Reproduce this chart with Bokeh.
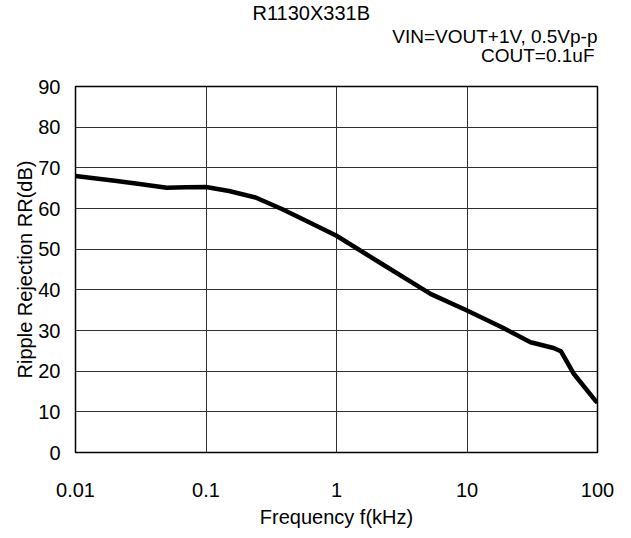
from bokeh.plotting import figure
from bokeh.models import FixedTicker, Title
from bokeh.embed import file_html
from bokeh.resources import INLINE

# ---- data ----
freq_khz = [0.01, 0.02, 0.03, 0.05, 0.07, 0.1, 0.15, 0.24, 0.385, 0.6, 1.0,
            2.17, 5.25, 10, 19, 30.7, 46, 52.4, 66, 96, 100]
rr_db = [68.0, 66.8, 66.1, 65.1, 65.2, 65.3, 64.3, 62.7, 59.8, 56.8, 53.3,
         46.6, 39.0, 34.9, 30.6, 27.1, 25.7, 24.9, 19.3, 12.8, 12.3]
x_ticks = [0.01, 0.1, 1, 10, 100]
x_tick_labels = ["0.01", "0.1", "1", "10", "100"]
y_ticks = [0, 10, 20, 30, 40, 50, 60, 70, 80, 90]

title_text = "R1130X331B"
cond_line1 = "VIN=VOUT+1V, 0.5Vp-p"
cond_line2 = "COUT=0.1uF"

FONT = "Liberation Sans"
SIZE = "20px"
HEAD_SIZE = "19px"

p = figure(width=623, height=530, x_axis_type="log",
           x_range=(0.01, 100), y_range=(0, 90), title=None,
           output_backend="svg", toolbar_location=None,
           min_border_left=75, min_border_right=26,
           min_border_top=86, min_border_bottom=70,
           background_fill_color="white", border_fill_color="white")

p.line(x=freq_khz, y=rr_db, line_color="black", line_width=4.5, line_join="round")

# header titles (stacked outward from the frame; standoffs tune each baseline)
p.add_layout(Title(text=cond_line2, align="right", offset=3, standoff=41,
                   text_font=FONT, text_font_size=HEAD_SIZE,
                   text_font_style="normal", text_color="black"), "above")
p.add_layout(Title(text=title_text, align="left", offset=177, standoff=-2,
                   text_font=FONT, text_font_size=SIZE,
                   text_font_style="normal", text_color="black"), "above")
p.add_layout(Title(text=cond_line1, align="right", offset=0, standoff=-92,
                   text_font=FONT, text_font_size=HEAD_SIZE,
                   text_font_style="normal", text_color="black"), "above")

p.xaxis.ticker = FixedTicker(ticks=x_ticks)
p.xaxis.major_label_overrides = {t: l for t, l in zip(x_ticks, x_tick_labels)}
p.yaxis.ticker = FixedTicker(ticks=y_ticks)
for ax in (p.xaxis[0], p.yaxis[0]):
    ax.axis_line_color = None
    ax.major_tick_line_color = None
    ax.minor_tick_line_color = None
    ax.major_label_text_font = FONT
    ax.major_label_text_font_size = SIZE
    ax.major_label_text_color = "black"
    ax.axis_label_text_font = FONT
    ax.axis_label_text_font_size = SIZE
    ax.axis_label_text_font_style = "normal"
    ax.axis_label_text_color = "black"
p.xaxis.axis_label = "Frequency f(kHz)"
p.yaxis.axis_label = "Ripple Rejection RR(dB)"
p.xaxis.major_label_standoff = 24
p.xaxis.axis_label_standoff = 6
p.yaxis.major_label_standoff = 9
p.yaxis.axis_label_standoff = -1

p.xgrid.grid_line_color = "#303030"
p.ygrid.grid_line_color = "#303030"
p.xgrid.grid_line_width = 1
p.ygrid.grid_line_width = 1
p.xgrid.minor_grid_line_color = None

p.outline_line_color = "black"
p.outline_line_width = 1.5
p.outline_line_alpha = 1

open("out.html", "w").write(file_html(p, INLINE))
